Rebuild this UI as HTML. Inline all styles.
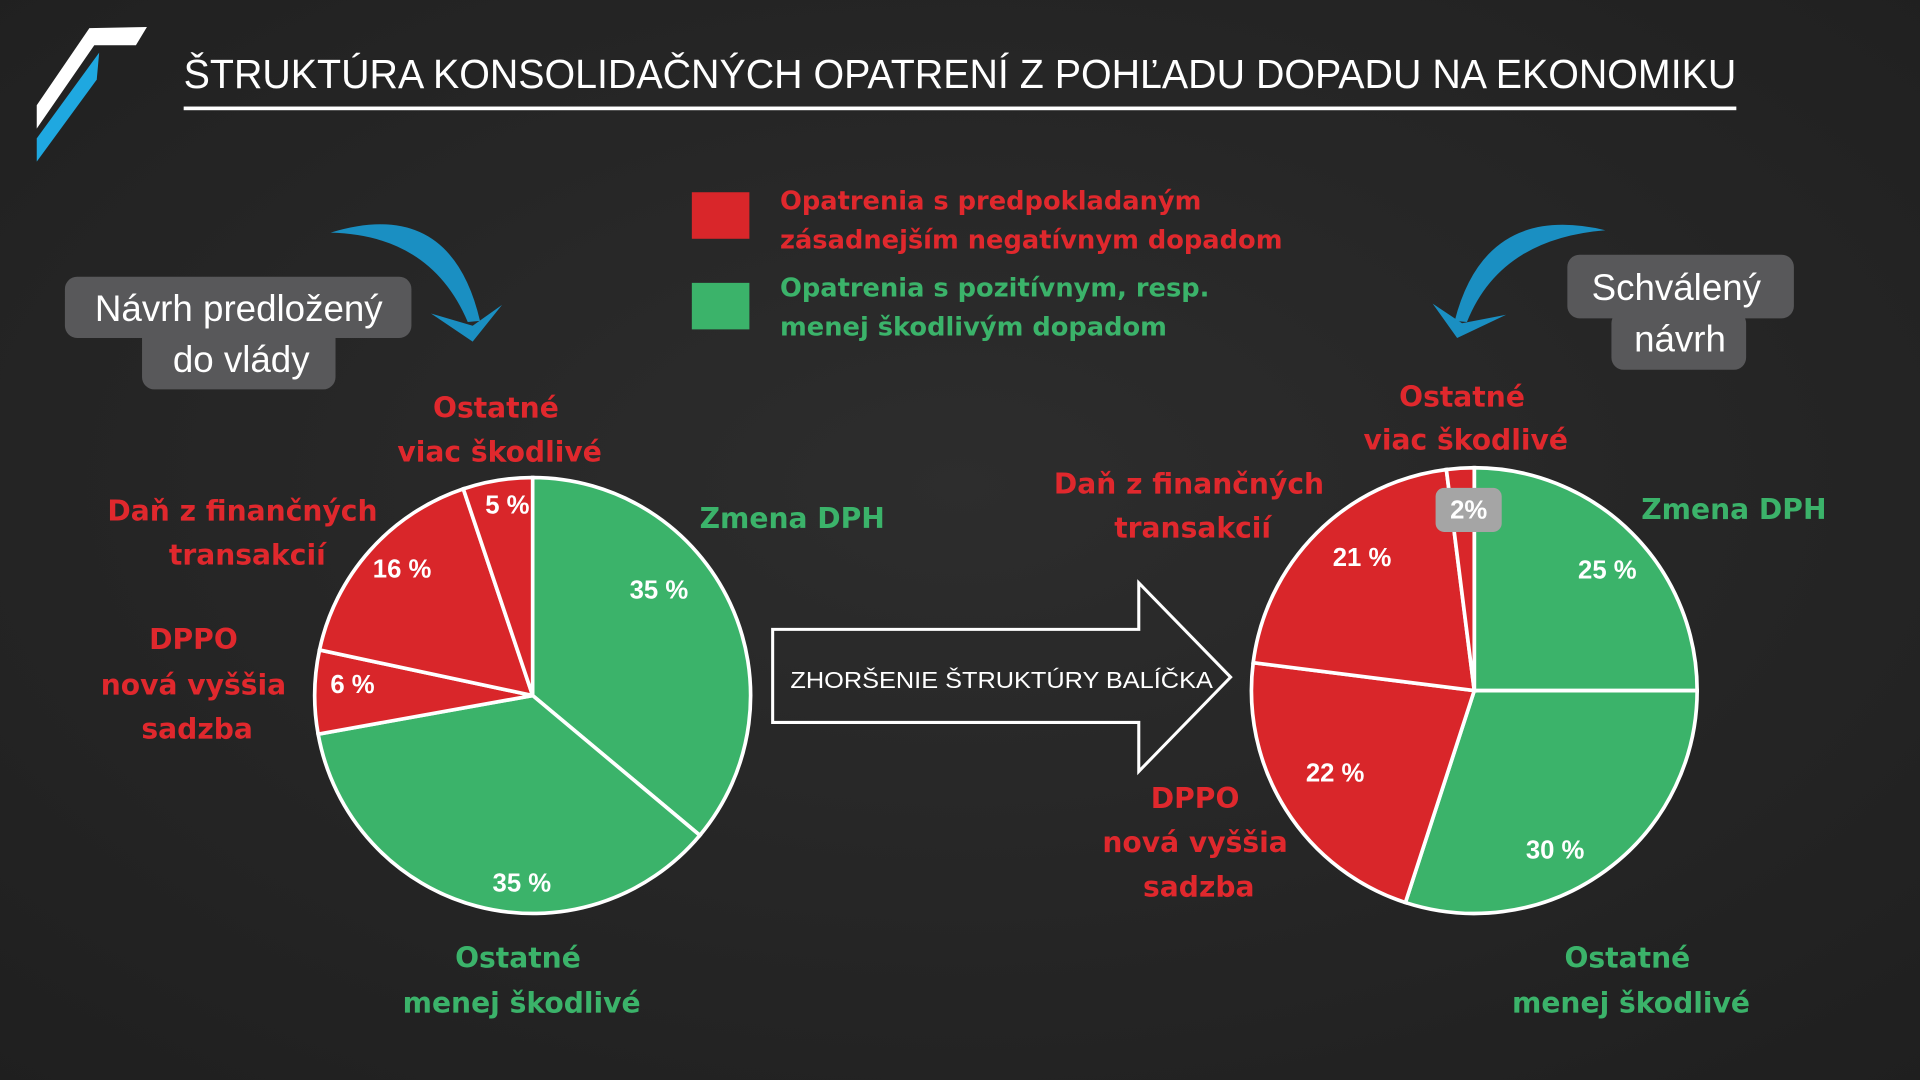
<!DOCTYPE html>
<html><head><meta charset="utf-8"><style>
html,body{margin:0;padding:0;background:#252525;}
svg{display:block;}
text{font-family:"Liberation Sans","DejaVu Sans",sans-serif;}
.w{font-family:"DejaVu Sans","Liberation Sans",sans-serif;}
</style></head><body>
<svg id="chart" width="1920" height="1080" viewBox="0 0 1920 1080">
<defs>
<radialGradient id="bg" cx="50%" cy="45%" r="75%">
<stop offset="0" stop-color="#2d2d2d"/><stop offset="1" stop-color="#1f1f1f"/>
</radialGradient>
</defs>
<rect width="1920" height="1080" fill="url(#bg)"/>
<g transform="scale(1.22449)" id="main">
<g>
<polygon points="73,23 120,22 111,37 77,37 30,105 30,86" fill="#ffffff"/>
<polygon points="81,43 79,65 30,132 30,113" fill="#1fa8e0"/>
</g>
<text x="150" y="72" font-size="33" fill="#ffffff" textLength="1268" lengthAdjust="spacingAndGlyphs">ŠTRUKTÚRA KONSOLIDAČNÝCH OPATRENÍ Z POHĽADU DOPADU NA EKONOMIKU</text>
<rect x="150" y="87" width="1268" height="3" fill="#ffffff"/>

<g class="w">
<rect x="565" y="157" width="47" height="38" fill="#d9262a"/>
<text class="w" x="637" y="171" font-size="21" font-weight="bold" fill="#e0282d">Opatrenia s predpokladaným</text>
<text class="w" x="637" y="203" font-size="21" font-weight="bold" fill="#e0282d">zásadnejším negatívnym dopadom</text>
<rect x="565" y="231" width="47" height="38" fill="#3bb36a"/>
<text class="w" x="637" y="242" font-size="21" font-weight="bold" fill="#3bb36a">Opatrenia s pozitívnym, resp.</text>
<text class="w" x="637" y="274" font-size="21" font-weight="bold" fill="#3bb36a">menej škodlivým dopadom</text>
</g>

<g>
<rect x="53" y="226" width="283" height="50" rx="10" fill="#58585a"/>
<rect x="116" y="266" width="158" height="52" rx="10" fill="#58585a"/>
<text x="195" y="262" font-size="30" fill="#fff" text-anchor="middle">Návrh predložený</text>
<text x="197" y="304" font-size="30" fill="#fff" text-anchor="middle">do vlády</text>
</g>
<g>
<rect x="1280" y="208" width="185" height="52" rx="10" fill="#58585a"/>
<rect x="1316" y="254" width="110" height="48" rx="10" fill="#58585a"/>
<text x="1369" y="245" font-size="30" fill="#fff" text-anchor="middle">Schválený</text>
<text x="1372" y="287" font-size="30" fill="#fff" text-anchor="middle">návrh</text>
</g>
<g fill="#1a8fc2">
<path d="M270,190 Q368,160 392,262 L382,263 Q352,192 270,190 Z"/>
<polygon points="352,256 386,279 410,249 386,266"/>
</g>
<g fill="#1a8fc2">
<path d="M1311,188 Q1213,165 1188,262 L1198,263 Q1225,195 1311,188 Z"/>
<polygon points="1170,248 1190,276 1230,257 1194,264"/>
</g>

<g>
<polygon points="631,514 930,514 930,476 1005,553 930,630 930,590 631,590" fill="none" stroke="#ffffff" stroke-width="2.5"/>
<text x="818" y="562" font-size="19" fill="#fff" text-anchor="middle" textLength="345" lengthAdjust="spacingAndGlyphs">ZHORŠENIE ŠTRUKTÚRY BALÍČKA</text>
</g>

<g id="leftPie"></g>
<g id="rightPie"></g>

<g class="w" font-size="23" font-weight="bold" text-anchor="middle">
<text class="w" x="405" y="341" fill="#e0282d">Ostatné</text>
<text class="w" x="408" y="377" fill="#e0282d">viac škodlivé</text>
<text class="w" x="198" y="425" fill="#e0282d">Daň z finančných</text>
<text class="w" x="202" y="461" fill="#e0282d">transakcií</text>
<text class="w" x="158" y="530" fill="#e0282d">DPPO</text>
<text class="w" x="158" y="567" fill="#e0282d">nová vyššia</text>
<text class="w" x="161" y="603" fill="#e0282d">sadzba</text>
<text class="w" x="647" y="431" fill="#3bb36a">Zmena DPH</text>
<text class="w" x="423" y="790" fill="#3bb36a">Ostatné</text>
<text class="w" x="426" y="827" fill="#3bb36a">menej škodlivé</text>
<text class="w" x="1194" y="332" fill="#e0282d">Ostatné</text>
<text class="w" x="1197" y="367" fill="#e0282d">viac škodlivé</text>
<text class="w" x="971" y="403" fill="#e0282d">Daň z finančných</text>
<text class="w" x="974" y="439" fill="#e0282d">transakcií</text>
<text class="w" x="1416" y="424" fill="#3bb36a">Zmena DPH</text>
<text class="w" x="976" y="660" fill="#e0282d">DPPO</text>
<text class="w" x="976" y="696" fill="#e0282d">nová vyššia</text>
<text class="w" x="979" y="732" fill="#e0282d">sadzba</text>
<text class="w" x="1329" y="790" fill="#3bb36a">Ostatné</text>
<text class="w" x="1332" y="827" fill="#3bb36a">menej škodlivé</text>
</g>
</g>
</svg>
<script>
var categories = ["Zmena DPH", "Ostatné menej škodlivé", "DPPO nová vyššia sadzba", "Daň z finančných transakcií", "Ostatné viac škodlivé"];
var leftValues = [35, 35, 6, 16, 5];
var rightValues = [25, 30, 22, 21, 2];
var sliceColors = ["#3bb36a", "#3bb36a", "#d9262a", "#d9262a", "#d9262a"];
// label nudges (styling only)
var leftNudge = [[-13,-32],[24,29],[-19,-7],[-11,-18],[0,-29]];
var rightNudge = [[16,-6],[-11,24],[-3,-3],[1,-16],[5,5]];
var NS = "http://www.w3.org/2000/svg";
function pt(cx, cy, r, a) { return [cx + r * Math.sin(a), cy - r * Math.cos(a)]; }
function drawPie(gid, values, cx, cy, r, prefix, nudge) {
  var g = document.getElementById(gid);
  var total = values.reduce(function (s, v) { return s + v; }, 0);
  var a0 = 0;
  for (var i = 0; i < values.length; i++) {
    var a1 = a0 + values[i] / total * 2 * Math.PI;
    var p0 = pt(cx, cy, r, a0), p1 = pt(cx, cy, r, a1);
    var large = (a1 - a0) > Math.PI ? 1 : 0;
    var path = document.createElementNS(NS, "path");
    path.setAttribute("d", "M" + cx + "," + cy + " L" + p0[0] + "," + p0[1] + " A" + r + "," + r + " 0 " + large + " 1 " + p1[0] + "," + p1[1] + " Z");
    path.setAttribute("fill", sliceColors[i]);
    path.setAttribute("stroke", "#ffffff");
    path.setAttribute("stroke-width", "3");
    
    
    g.appendChild(path);
    a0 = a1;
  }
  a0 = 0;
  for (var j = 0; j < values.length; j++) {
    var frac = values[j] / total;
    var am = a0 + frac * Math.PI;
    a0 += frac * 2 * Math.PI;
    var small = frac < 0.04;
    var lp = pt(cx, cy, r * (small ? 0.84 : 0.72), am);
    lp = [lp[0] + nudge[j][0], lp[1] + nudge[j][1]];
    var label = values[j] + (small && prefix === "right" ? "%" : " %");
    if (small && prefix === "right") {
      var box = document.createElementNS(NS, "rect");
      box.setAttribute("x", lp[0] - 27); box.setAttribute("y", lp[1] - 18);
      box.setAttribute("width", 54); box.setAttribute("height", 36);
      box.setAttribute("rx", 7); box.setAttribute("fill", "#a5a5a5");
      
      
      g.appendChild(box);
    }
    var t = document.createElementNS(NS, "text");
    t.setAttribute("x", lp[0]); t.setAttribute("y", lp[1] + 7);
    t.setAttribute("text-anchor", "middle");
    t.setAttribute("font-size", "21"); t.setAttribute("font-weight", "bold");
    t.setAttribute("fill", "#ffffff");
    t.textContent = label;
    
    
    g.appendChild(t);
  }
}
drawPie("leftPie", leftValues, 435, 568, 178, "left", leftNudge);
drawPie("rightPie", rightValues, 1204, 564, 182, "right", rightNudge);
</script>
</body></html>
